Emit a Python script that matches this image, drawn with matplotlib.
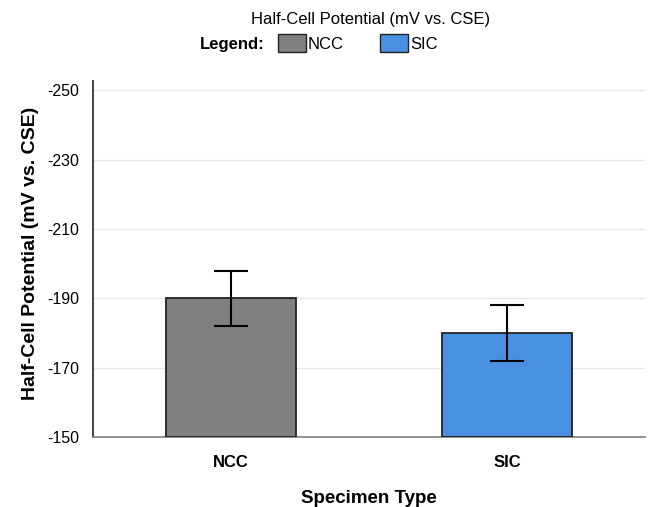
import matplotlib.pyplot as plt
from matplotlib.patches import Rectangle

plt.rcParams['font.family'] = ['Liberation Sans', 'DejaVu Sans']

# data
specimens = ['NCC', 'SIC']
potential = [-190, -180]
errors = [8, 8]
colors = ['#808080', '#4a90e2']
yticks = [-150, -170, -190, -210, -230, -250]

fig = plt.figure(figsize=(6.5, 5.07), dpi=100)
ax = fig.add_axes([0.143, 0.138, 0.85, 0.702])

x = range(len(specimens))
base = -150
heights = [p - base for p in potential]
ax.bar(x, heights, bottom=base, width=0.47, color=colors,
       edgecolor='#222222', linewidth=1.3, zorder=3)
ax.errorbar(x, potential, yerr=errors, fmt='none', ecolor='black',
            elinewidth=1.5, capsize=12, capthick=1.5, zorder=4)

ax.set_xlim(-0.5, 1.5)
ax.set_ylim(-150, -252.6)
ax.set_yticks(yticks)
ax.set_yticklabels([str(t) for t in yticks], fontsize=11.5)
ax.set_xticks(list(x))
ax.set_xticklabels(specimens, fontsize=12, fontweight='bold')
ax.tick_params(axis='x', length=0, pad=13)
ax.tick_params(axis='y', length=0, pad=10)

ax.grid(axis='y', color='#e6e6e6', linewidth=1, zorder=0)
ax.spines['top'].set_visible(False)
ax.spines['right'].set_visible(False)
ax.spines['left'].set_color('#333333')
ax.spines['left'].set_linewidth(1.3)
ax.spines['bottom'].set_color('#888888')
ax.spines['bottom'].set_linewidth(1.3)

ax.set_xlabel('Specimen Type', fontsize=13.5, fontweight='bold', labelpad=14)
ax.set_ylabel('Half-Cell Potential (mV vs. CSE)', fontsize=14,
              fontweight='bold', labelpad=6)
ax.yaxis.label.set_y(0.515)

# title and custom legend row
fig.text(0.57, 0.962, 'Half-Cell Potential (mV vs. CSE)', ha='center',
         va='center', fontsize=12)
fig.text(0.308, 0.913, 'Legend:', ha='left', va='center', fontsize=12,
         fontweight='bold')
legend_x = [0.428, 0.585]
for lx, name, c in zip(legend_x, specimens, colors):
    fig.patches.append(Rectangle((lx, 0.898), 0.042, 0.034,
                                 transform=fig.transFigure, facecolor=c,
                                 edgecolor='#222222', linewidth=1))
    fig.text(lx + 0.046, 0.913, name, ha='left', va='center', fontsize=12)

fig.savefig('out.png', dpi=100)
